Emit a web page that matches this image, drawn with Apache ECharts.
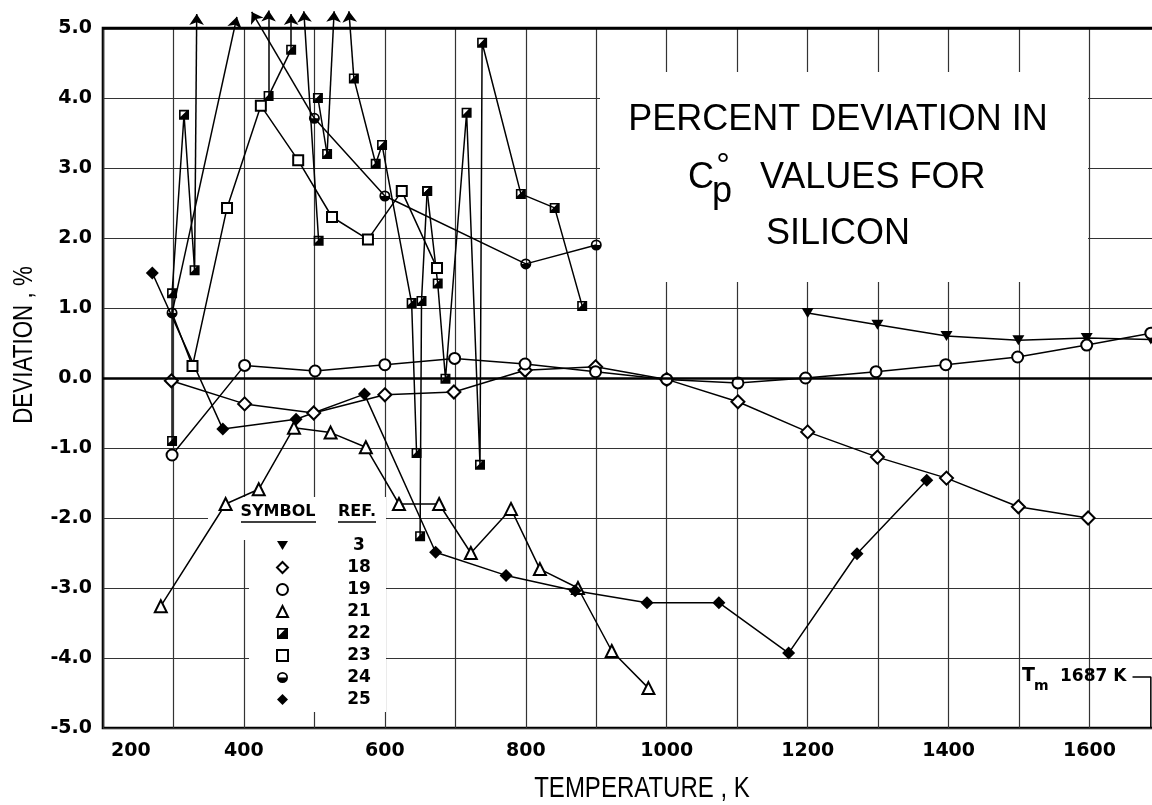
<!DOCTYPE html>
<html><head><meta charset="utf-8">
<script src="https://cdn.jsdelivr.net/npm/echarts@6/dist/echarts.min.js"></script>
<style>html,body{margin:0;padding:0;background:#fff}#c{width:1152px;height:805px}</style>
</head><body><div id="c"></div>
<script>
// ---- tick labels / categories ----
const xTickLabels = [200, 400, 600, 800, 1000, 1200, 1400, 1600];
const legendRefs = ['3', '18', '19', '21', '22', '23', '24', '25'];

// ---- series values [T (K), deviation %] ----
const ref3 = [[1200,0.93],[1299,0.76],[1397,0.60],[1499,0.54],[1596,0.57],[1687,0.55]];
const ref18 = [[297,-0.04],[401,-0.37],[499,-0.50],[600,-0.24],[698,-0.20],[799,0.11],[899,0.16],[1000,-0.02],[1101,-0.34],[1200,-0.77],[1299,-1.13],[1397,-1.43],[1499,-1.84],[1598,-2.00]];
const ref19 = [[298,-1.10],[401,0.18],[501,0.10],[600,0.19],[699,0.28],[799,0.20],[899,0.09],[1000,-0.02],[1101,-0.07],[1197,0.00],[1297,0.09],[1396,0.19],[1498,0.30],[1596,0.47],[1687,0.64]];
const ref21 = [[282,-3.26],[374,-1.80],[421,-1.59],[471,-0.71],[523,-0.78],[573,-0.99],[620,-1.80],[677,-1.80],[722,-2.50],[779,-1.87],[820,-2.73],[874,-3.00],[922,-3.90],[974,-4.43]];
const ref22a = [[298,-0.90],[298,1.21],[315,3.76],[330,1.54]];
const ref22b = [[435,4.03],[467,4.69]];
const ref22c = [[505,4.00],[518,3.20]];
const ref22d = [[506,1.96]];
const ref22e = [[556,4.28],[587,3.06],[596,3.33],[638,1.07],[645,-1.07]];
const ref22f = [[660,2.67],[652,1.10],[650,-2.26]];
const ref22g = [[660,2.67],[675,1.35],[686,-0.01],[716,3.79],[735,-1.24],[738,4.79],[793,2.63],[841,2.43],[880,1.03]];
const ref23lead = [298,0.93];
const ref23 = [[327,0.17],[376,2.43],[424,3.89],[477,3.11],[525,2.30],[576,1.98],[624,2.67],[674,1.57]];
const ref24a = [[298,0.93]];
const ref24b = [[500,3.71],[600,2.60],[800,1.63],[900,1.90]];
const ref25 = [[270,1.50],[370,-0.73],[474,-0.59],[571,-0.23],[672,-2.49],[772,-2.82],[870,-3.04],[972,-3.21],[1074,-3.21],[1173,-3.93],[1270,-2.51],[1369,-1.46]];
// off-scale arrows: [fromT, fromD, toT, toD]
const offScale = [[330,1.54,333,5.20],[435,4.03,435,5.25],[467,4.69,467,5.20],[506,1.96,485,5.24],[518,3.20,528,5.24],[556,4.28,549,5.24],[298,0.93,390,5.16],[500,3.71,411,5.23]];
const tmLeader = [[1661,-4.27],[1687,-4.27],[1687,-5.0]];

// ---- symbols ----
const SYM_DOWN = 'path://M0,0L12,0L6,10Z';
const SYM_HALFSQ = 'path://M0,0L10,0L10,10L0,10Z M1.6,1.6L1.6,7L7,1.6Z';
const SYM_HALFCIRC = 'path://M0,5A5,5,0,1,1,10,5A5,5,0,1,1,0,5Z M1.6,5L8.4,5A3.4,3.4,0,0,0,1.6,5Z';

const BLACK = '#000';
const LBL = 'DejaVu Sans';

function seg(name, data, symbol, size, empty) {
  return {
    type: 'line', name: name, data: data, symbol: symbol, symbolSize: size,
    showAllSymbol: true, animation: false, z: 3,
    lineStyle: {color: BLACK, width: 1.5},
    itemStyle: {color: BLACK, borderColor: BLACK, borderWidth: empty ? 1.6 : 0},
    emphasis: {disabled: true}
  };
}

const series = [
  Object.assign(seg('3', ref3, SYM_DOWN, [12, 10], false), {
    markLine: {silent: true, symbol: 'none', label: {show: false}, animation: false,
      lineStyle: {color: BLACK, width: 2.6, type: 'solid'}, data: [{yAxis: 0}, {yAxis: 5}]}
  }),
  seg('18', ref18, 'emptyDiamond', 13, true),
  seg('19', ref19, 'emptyCircle', 11, true),
  seg('21', ref21, 'emptyTriangle', 12, true),
  seg('22', ref22a, SYM_HALFSQ, 10, false),
  seg('22', ref22b, SYM_HALFSQ, 10, false),
  seg('22', ref22c, SYM_HALFSQ, 10, false),
  seg('22', ref22d, SYM_HALFSQ, 10, false),
  seg('22', ref22e, SYM_HALFSQ, 10, false),
  seg('22', ref22f, SYM_HALFSQ, 10, false),
  seg('22', ref22g, SYM_HALFSQ, 10, false),
  seg('23', [{value: ref23lead, symbol: 'none'}].concat(ref23), 'emptyRect', 10, true),
  seg('24', ref24a, SYM_HALFCIRC, 11, false),
  seg('24', ref24b, SYM_HALFCIRC, 11, false),
  seg('25', ref25, 'diamond', 13, false),
  {type: 'line', name: 'tm', data: tmLeader, symbol: 'none', animation: false, clip: false,
   lineStyle: {color: BLACK, width: 1.5}, z: 3},
  {type: 'lines', name: 'arrows', coordinateSystem: 'cartesian2d', clip: false,
   symbol: ['none', 'arrow'], symbolSize: 11, animation: false, silent: true, z: 3,
   lineStyle: {color: BLACK, width: 1.5, opacity: 1, curveness: 0},
   data: offScale.map(a => ({coords: [[a[0], a[1]], [a[2], a[3]]]}))}
];

const legendIcons = [SYM_DOWN, 'emptyDiamond', 'emptyCircle', 'emptyTriangle', SYM_HALFSQ, 'emptyRect', SYM_HALFCIRC, 'diamond'];

const txt = (x, y, text, font, align, extra) => Object.assign({
  type: 'text', x: x, y: y, z: 10,
  style: {text: text, font: font, fill: BLACK, textAlign: align, align: align, textVerticalAlign: 'middle', verticalAlign: 'middle'}
}, extra || {});

const option = {
  animation: false,
  backgroundColor: '#fff',
  grid: {left: 103, top: 28, width: 1057, height: 700, show: true, borderColor: BLACK, borderWidth: 2.6,
    containLabel: false, outerBoundsMode: 'none'},
  xAxis: {
    type: 'value', min: 200, max: 1700, interval: 100,
    axisLine: {show: false}, axisTick: {show: false},
    splitLine: {show: true, lineStyle: {color: '#333', width: 1.2}},
    axisLabel: {
      color: BLACK, fontFamily: LBL, fontWeight: 'bold', fontSize: 19, margin: 14,
      alignMinLabel: 'left', hideOverlap: false,
      formatter: v => (v === xTickLabels[0] ? '{f|' + v + '}' : (xTickLabels.indexOf(v) >= 0 ? String(v) : '')),
      rich: {f: {padding: [0, 0, 0, 8], color: BLACK, fontFamily: LBL, fontWeight: 'bold', fontSize: 19}}
    }
  },
  yAxis: {
    type: 'value', min: -5, max: 5, interval: 1,
    axisLine: {show: false}, axisTick: {show: false},
    splitLine: {show: true, lineStyle: {color: '#333', width: 1.2}},
    axisLabel: {color: BLACK, fontFamily: LBL, fontWeight: 'bold', fontSize: 19, margin: 11,
      formatter: v => v.toFixed(1)}
  },
  legend: {
    orient: 'vertical', left: 271, top: 532, itemGap: 5, itemWidth: 11, itemHeight: 11,
    selectedMode: false,
    data: legendRefs.map((r, i) => ({name: r, icon: legendIcons[i]})),
    formatter: n => '{a|' + n + '}',
    textStyle: {rich: {a: {width: 40, align: 'center', padding: [0, 0, 0, 46], fontSize: 17, fontWeight: 'bold', fontFamily: LBL, lineHeight: 17, color: BLACK}}}
  },
  graphic: [
    {type: 'rect', z: 1, shape: {x: 600, y: 72, width: 488, height: 210}, style: {fill: '#fff'}, silent: true},
    {type: 'rect', z: 1, shape: {x: 208, y: 497, width: 178, height: 43}, style: {fill: '#fff'}, silent: true},
    {type: 'rect', z: 1, shape: {x: 249, y: 540, width: 137, height: 172}, style: {fill: '#fff'}, silent: true},
    txt(838, 120, 'PERCENT DEVIATION IN', '36px "Liberation Sans"', 'center'),
    txt(688, 178, 'C', '36px "Liberation Sans"', 'left'),
    txt(723, 167, '°', '34px "Liberation Sans"', 'center'),
    txt(712, 192, 'p', '36px "Liberation Sans"', 'left'),
    txt(760, 178, 'VALUES FOR', '36px "Liberation Sans"', 'left'),
    txt(838, 234, 'SILICON', '36px "Liberation Sans"', 'center'),
    txt(642, 789, 'TEMPERATURE , K', '30px "Liberation Sans"', 'center', {scaleX: 0.8}),
    txt(24, 345, 'DEVIATION , %', '28px "Liberation Sans"', 'center', {rotation: Math.PI / 2, scaleX: 0.8}),
    txt(278, 512, 'SYMBOL', 'bold 16px "DejaVu Sans"', 'center'),
    txt(357, 512, 'REF.', 'bold 16px "DejaVu Sans"', 'center'),
    {type: 'line', z: 10, shape: {x1: 241, y1: 522, x2: 316, y2: 522}, style: {stroke: BLACK, lineWidth: 1.5}},
    {type: 'line', z: 10, shape: {x1: 338, y1: 522, x2: 376, y2: 522}, style: {stroke: BLACK, lineWidth: 1.5}},
    txt(1022, 676, 'T', 'bold 19px "DejaVu Sans"', 'left'),
    txt(1034, 686, 'm', 'bold 14px "DejaVu Sans"', 'left'),
    txt(1060, 677, '1687 K', 'bold 17px "DejaVu Sans"', 'left')
  ],
  series: series
};

const chart = echarts.init(document.getElementById('c'), null, {renderer: 'canvas'});
chart.setOption(option);
</script>
</body></html>
